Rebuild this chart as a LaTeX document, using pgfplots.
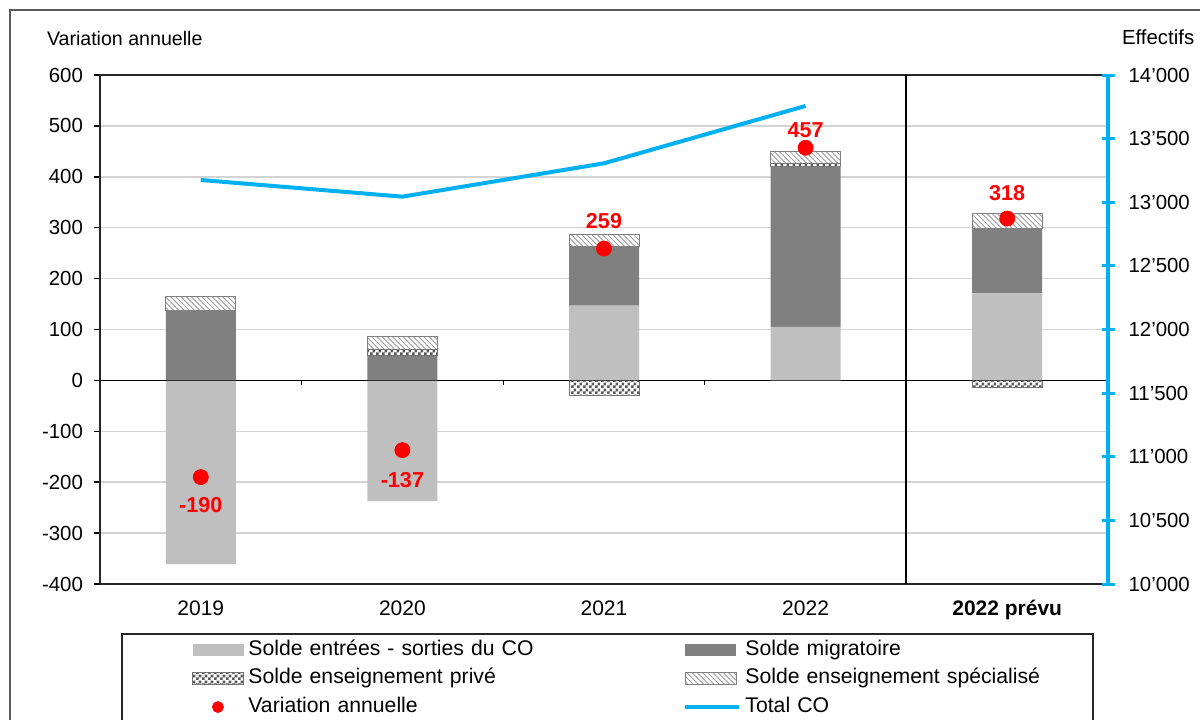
\documentclass[border=0pt]{standalone}
\usepackage{pgfplots}
\pgfplotsset{compat=1.18}
\usepackage{fontspec}
\setmainfont{Liberation Sans}
\usetikzlibrary{patterns}

\definecolor{lightbar}{HTML}{BFBFBF}
\definecolor{darkbar}{HTML}{808080}
\definecolor{cyanline}{HTML}{00B0F0}
\definecolor{gridc}{HTML}{D3D3D3}

\pgfdeclarepatternformonly{smallchecker}{\pgfpointorigin}{\pgfqpoint{2.8pt}{2.8pt}}{\pgfqpoint{2.8pt}{2.8pt}}{%
  \pgfpathrectangle{\pgfpointorigin}{\pgfqpoint{1.4pt}{1.4pt}}%
  \pgfpathrectangle{\pgfqpoint{1.4pt}{1.4pt}}{\pgfqpoint{1.4pt}{1.4pt}}%
  \pgfusepath{fill}}
\pgfdeclarepatternformonly{finehatch}{\pgfqpoint{-1pt}{-1pt}}{\pgfqpoint{3.6pt}{3.6pt}}{\pgfqpoint{2.6pt}{2.6pt}}{%
  \pgfsetlinewidth{0.5pt}%
  \pgfpathmoveto{\pgfqpoint{0pt}{2.6pt}}%
  \pgfpathlineto{\pgfqpoint{2.7pt}{-0.1pt}}%
  \pgfusepath{stroke}}

\newcommand{\ticfont}{\fontsize{10.2}{12}\selectfont}
\newcommand{\legfont}{\fontsize{10.6}{12}\selectfont}

\pgfplotsset{
  base/.style={scale only axis, width=504pt, height=254.5pt, at={(50pt,67.5pt)}, anchor=south west,
    xmin=-0.5, xmax=4.5, ymin=-400, ymax=600},
  barleg/.style={legend image code/.code={\draw[##1] (0pt,-3pt) rectangle (25.5pt,3pt);}},
  fillleg/.style={legend image code/.code={\fill[##1] (0pt,-3pt) rectangle (25.5pt,3pt);}},
  dotleg/.style={legend image code/.code={\draw[##1, mark size=2.75pt] plot coordinates {(12.5pt,0pt)};}},
  lineleg/.style={legend image code/.code={\draw[##1] (0pt,0pt) -- (27pt,0pt);}},
  s light/.style={fill=lightbar, draw=none, fillleg},
  s dark/.style={fill=darkbar, draw=none, fillleg},
  s prive/.style={draw=black!55, line width=0.5pt, preaction={fill=white}, pattern=smallchecker, pattern color=black!65, barleg},
  s spec/.style={draw=black!50, line width=0.5pt, preaction={fill=white}, pattern=finehatch, pattern color=black!35, barleg},
  s total/.style={color=cyanline, line width=2pt, lineleg},
}

\begin{document}
\begin{tikzpicture}

% Axis 1: grid and negative parts
\begin{axis}[base,
  ymajorgrids, major grid style={gridc, line width=0.75pt},
  ytick={-400,-300,-200,-100,0,100,200,300,400,500,600},
  yticklabels={}, xtick=\empty,
  axis line style={draw=none}, major tick length=0pt,
  ybar, bar width=35pt, bar shift=0pt]
\addplot[s light] coordinates {(0,-361) (1,-237)};
\addplot[s prive] coordinates {(2,-29) (4,-14)};
\end{axis}

% Axis 2: positive stacked parts, frame, ticks
\begin{axis}[base,
  ybar stacked, bar width=35pt,
  ytick={-400,-300,-200,-100,0,100,200,300,400,500,600},
  yticklabels={-400,-300,-200,-100,0,100,200,300,400,500,600},
  ytick pos=left, ytick align=outside,
  xtick={0,1,2,3,4},
  xticklabels={2019,2020,2021,2022,{\bfseries 2022 prévu}},
  xtick style={draw=none},
  axis line style={black!85, line width=0.75pt},
  ytick style={black, line width=0.75pt}, major tick length=3pt,
  yticklabel style={font=\ticfont, xshift=-2pt},
  xticklabel style={font=\fontsize{10.5}{12}\selectfont, text height=7.5pt, text depth=2pt, yshift=-4.75pt}]
\addplot[s light] coordinates {(0,0) (1,0) (2,147) (3,105) (4,171)};
\addplot[s dark] coordinates {(0,138) (1,48) (2,117) (3,315) (4,128)};
\addplot[s prive] coordinates {(0,0) (1,13) (2,0) (3,6) (4,0)};
\addplot[s spec] coordinates {(0,27) (1,26) (2,23) (3,23) (4,28)};
\draw[black, line width=0.6pt] (axis cs:-0.5,0) -- (axis cs:4.5,0);
\pgfplotsinvokeforeach{0.5,1.5,2.5,3.5,4.5}{\draw[black, line width=0.6pt] (axis cs:#1,0) -- ([yshift=-2.5pt]axis cs:#1,0);}
\draw[black, line width=1pt] (axis cs:3.5,-400) -- (axis cs:3.5,600);
\end{axis}

% Axis 3: annual variation dots, labels, legend
\begin{axis}[base, hide axis,
  legend columns=2,
  legend style={at={(0.0913,-0.1014)}, anchor=north west, draw=none, fill=none, inner sep=0pt,
    row sep=0.25pt, column sep=0pt, font=\legfont,
    nodes={text width=215.5pt, align=left, inner sep=2pt, text height=7.5pt, text depth=2.5pt}},
  legend cell align=left]
\addlegendimage{s light}
\addlegendentry{Solde entrées - sorties du CO}
\addlegendimage{s dark}
\addlegendentry{Solde migratoire}
\addlegendimage{s prive}
\addlegendentry{Solde enseignement privé}
\addlegendimage{s spec}
\addlegendentry{Solde enseignement spécialisé}
\addplot[only marks, mark=*, mark size=3.75pt, color=red, dotleg] coordinates {(0,-190) (1,-137) (2,259) (3,457) (4,318)};
\addlegendentry{Variation annuelle}
\addlegendimage{s total}
\addlegendentry{Total CO}
\addplot[forget plot, only marks, mark=none, point meta=explicit symbolic, nodes near coords,
  visualization depends on={\thisrow{dy}\as\dy},
  every node near coord/.append style={anchor=center, yshift=\dy pt, font=\fontsize{10.8}{12}\selectfont\bfseries, text=red}]
  table[x=x, y=y, meta=lab] {
x y lab dy
0 -190 -190 -14
1 -137 -137 -15
2 259 259 14
3 457 457 9
4 318 318 12.5
};
\end{axis}

% Axis 4: right axis, Total CO
\begin{axis}[base, ymin=10000, ymax=14000,
  axis y line*=right, axis x line=none, scaled y ticks=false,
  ytick={10000,10500,11000,11500,12000,12500,13000,13500,14000},
  yticklabels={10'000,10'500,11'000,11'500,12'000,12'500,13'000,13'500,14'000},
  y axis line style={cyanline, line width=2pt},
  ytick style={cyanline, line width=1.5pt}, major tick length=6.5pt, tick align=center,
  yticklabel style={font=\ticfont, xshift=3.5pt}]
\addplot[s total] coordinates {(0,13175) (1,13044) (2,13306) (3,13757)};
\end{axis}

% titles and frames
\node[anchor=west, inner sep=0pt, font=\fontsize{9.8}{12}\selectfont] at (23.3pt,340.5pt) {Variation annuelle};
\node[anchor=west, inner sep=0pt, font=\fontsize{10.2}{12}\selectfont] at (560.8pt,341pt) {Effectifs};
\draw[black!85, line width=0.75pt] (61pt,-10pt) -- (61pt,42.5pt) -- (546.5pt,42.5pt) -- (546.5pt,-10pt);
\draw[black!65, line width=0.6pt] (5pt,-10pt) -- (5pt,354.5pt) -- (620pt,354.5pt);

\pgfresetboundingbox
\useasboundingbox (0pt,0pt) rectangle (600pt,359.5pt);
\end{tikzpicture}
\end{document}
